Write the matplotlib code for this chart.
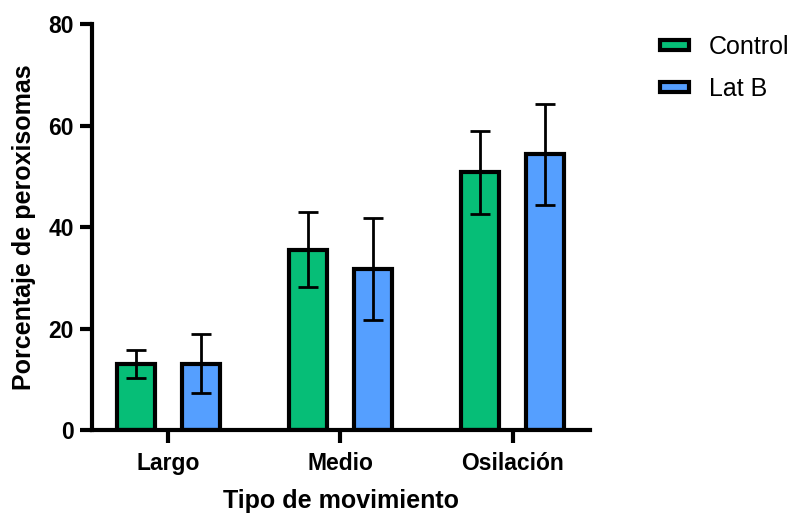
import numpy as np
import matplotlib
matplotlib.use("Agg")
import matplotlib.pyplot as plt
from matplotlib.patches import Patch

# Percentage of peroxisomes by movement type (mean and error)
categories = ["Largo", "Medio", "Osilación"]
series_names = ["Control", "Lat B"]
control_mean = [13.0, 35.5, 50.8]
control_err = [2.7, 7.4, 8.2]
latb_mean = [13.1, 31.7, 54.3]
latb_err = [5.9, 10.1, 9.9]
y_ticks = [0, 20, 40, 60, 80]

green = "#06BE77"
blue = "#559FFF"

plt.rcParams["font.family"] = ["Liberation Sans", "DejaVu Sans"]

fig = plt.figure(figsize=(7.97, 5.14), dpi=100)
ax = fig.add_axes([0.1151, 0.1634, 0.6252, 0.7899])

x = np.arange(len(categories))
width = 0.22
offset = 0.19
err_kw = dict(elinewidth=2.0, capsize=7.5, capthick=2.0, ecolor="black")

ax.bar(x - offset, control_mean, width, yerr=control_err, color=green,
       edgecolor="black", linewidth=3, error_kw=err_kw, zorder=2)
ax.bar(x + offset, latb_mean, width, yerr=latb_err, color=blue,
       edgecolor="black", linewidth=3, error_kw=err_kw, zorder=2)

ax.set_xlim(-0.445, 2.45)
ax.set_ylim(0, 80)
ax.set_yticks(y_ticks)
ax.set_xticks(x)
ax.set_xticklabels(categories)

for side in ("top", "right"):
    ax.spines[side].set_visible(False)
for side in ("left", "bottom"):
    ax.spines[side].set_linewidth(3)

ax.tick_params(axis="both", width=3, length=9, labelsize=16.5, direction="out")
ax.tick_params(axis="y", pad=4)
ax.tick_params(axis="x", pad=7)
for lbl in ax.get_xticklabels() + ax.get_yticklabels():
    lbl.set_fontweight("bold")

ax.set_ylabel("Porcentaje de peroxisomas", fontsize=18, fontweight="bold")
ax.set_xlabel("Tipo de movimiento", fontsize=18, fontweight="bold")
ax.yaxis.set_label_coords(-0.112, 0.5)
ax.xaxis.set_label_coords(0.5, -0.145)

handles = [Patch(facecolor=green, edgecolor="black", linewidth=3),
           Patch(facecolor=blue, edgecolor="black", linewidth=3)]
fig.legend(handles, series_names, loc="upper left",
           bbox_to_anchor=(660 / 797, 1 - 35 / 514), frameon=False,
           fontsize=18, handlelength=1.15, handleheight=0.22,
           handletextpad=0.8, labelspacing=0.72, borderpad=0,
           borderaxespad=0)

fig.savefig("out.png", dpi=100)
